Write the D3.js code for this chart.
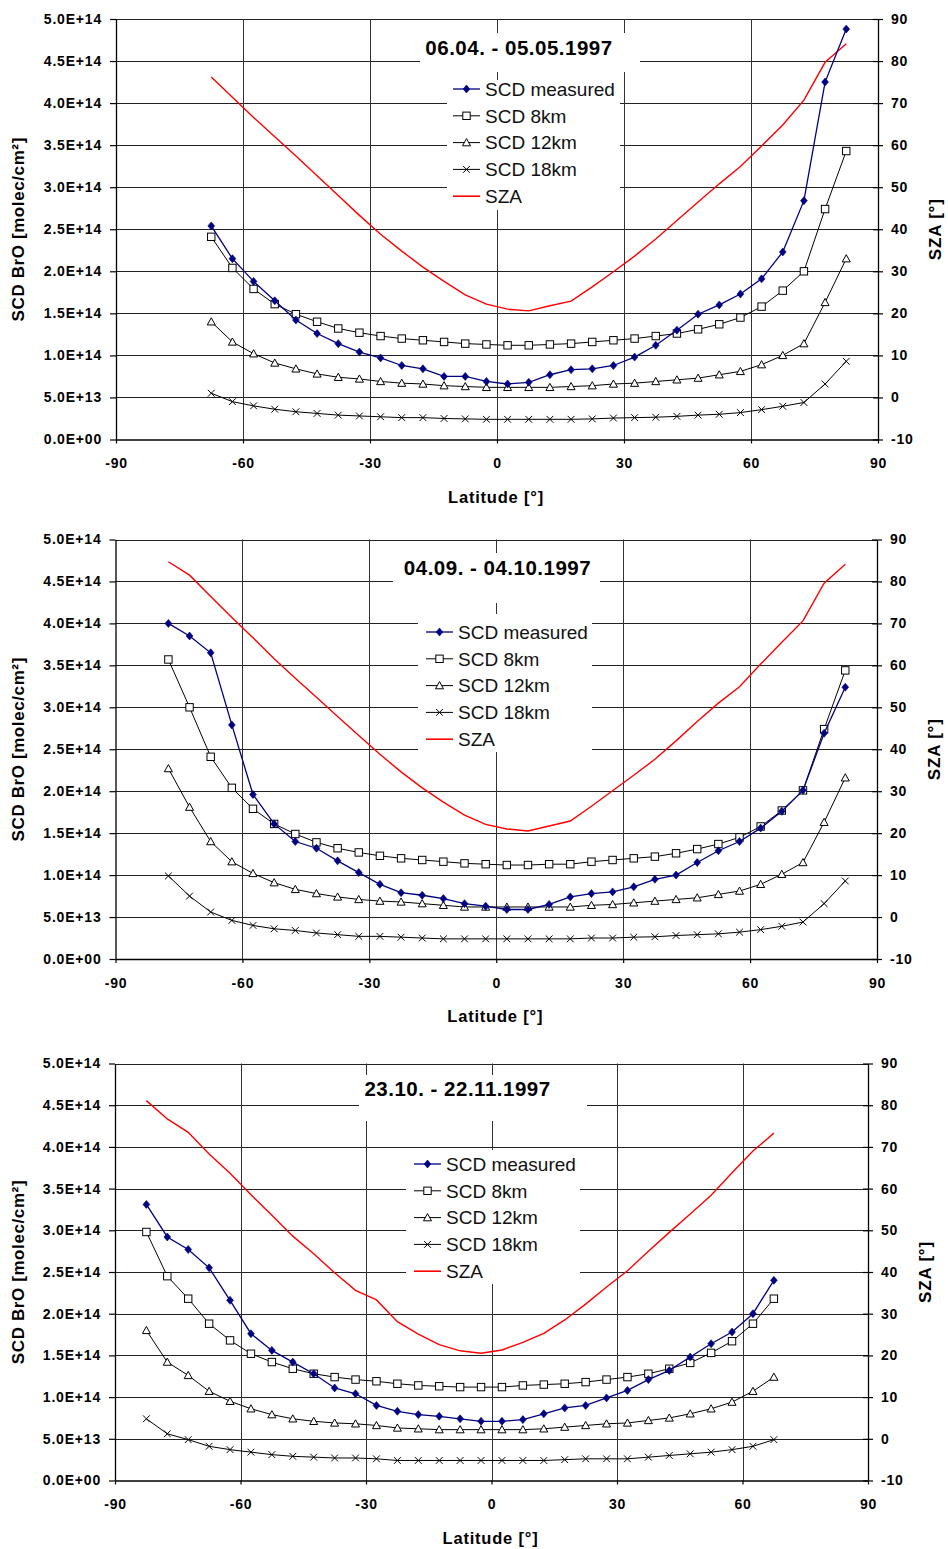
<!DOCTYPE html>
<html>
<head>
<meta charset="utf-8">
<script src="https://cdn.jsdelivr.net/npm/d3@7"></script>
<style>
  body { margin: 0; background: #fff; }
  svg { display: block; font-family: "Liberation Sans", Arial, Helvetica, sans-serif; }
</style>
</head>
<body>
<svg id="chart" width="948" height="1549"></svg>
<script>
// ---- Series names and axis ticks -------------------------------------------
const seriesNames = ["SCD measured", "SCD 8km", "SCD 12km", "SCD 18km", "SZA"];
const scdTicks = [0, 0.5, 1, 1.5, 2, 2.5, 3, 3.5, 4, 4.5, 5];      // 10^14 molec/cm²
const latTicks = [-90, -60, -30, 0, 30, 60, 90];
const latGrid  = [-60, -30, 0, 30, 60];
const szaTicks = [-10, 0, 10, 20, 30, 40, 50, 60, 70, 80, 90];

// ---- Period 1: 06.04. - 05.05.1997 (SCD in 10^14 molec/cm², SZA in °) -----
const title1 = "06.04. - 05.05.1997";
const lat1 = [-67.5,-62.5,-57.5,-52.5,-47.5,-42.5,-37.5,-32.5,-27.5,-22.5,-17.5,-12.5,-7.5,-2.5,
              2.5,7.5,12.5,17.5,22.5,27.5,32.5,37.5,42.5,47.5,52.5,57.5,62.5,67.5,72.5,77.5,82.5];
const meas1 = [2.54,2.15,1.88,1.65,1.42,1.26,1.14,1.04,0.97,0.88,0.84,0.75,0.75,0.69,0.66,0.68,
               0.77,0.83,0.84,0.88,0.98,1.12,1.30,1.49,1.60,1.73,1.91,2.23,2.84,4.25,4.88];
const km8_1 = [2.41,2.04,1.79,1.61,1.49,1.40,1.32,1.27,1.23,1.20,1.18,1.16,1.14,1.13,1.12,1.12,
               1.13,1.14,1.16,1.18,1.20,1.23,1.26,1.31,1.37,1.45,1.58,1.77,2.00,2.74,3.43];
const km12_1 = [1.40,1.16,1.02,0.91,0.84,0.78,0.74,0.72,0.69,0.67,0.66,0.64,0.63,0.62,0.62,0.62,
                0.62,0.63,0.64,0.66,0.67,0.69,0.71,0.73,0.77,0.81,0.89,1.00,1.14,1.63,2.15];
const km18_1 = [0.55,0.45,0.40,0.36,0.33,0.31,0.29,0.28,0.27,0.26,0.26,0.25,0.245,0.24,0.24,0.24,
                0.24,0.24,0.245,0.255,0.26,0.265,0.275,0.29,0.30,0.32,0.355,0.395,0.44,0.66,0.93];
const sza1 = [76.2,71.4,66.6,62.0,57.4,52.7,48.0,43.3,38.8,34.8,31.0,27.6,24.4,22.2,21.0,20.6,
              21.8,22.9,26.3,29.9,33.6,37.7,42.1,46.5,50.8,54.9,59.8,64.8,70.7,79.7,84.1];

// ---- Period 2: 04.09. - 04.10.1997 -----------------------------------------
const title2 = "04.09. - 04.10.1997";
const lat2 = [-77.5,-72.5,-67.5,-62.5,-57.5,-52.5,-47.5,-42.5,-37.5,-32.5,-27.5,-22.5,-17.5,-12.5,-7.5,-2.5,
              2.5,7.5,12.5,17.5,22.5,27.5,32.5,37.5,42.5,47.5,52.5,57.5,62.5,67.5,72.5,77.5,82.5];
const meas2 = [4.00,3.85,3.65,2.79,1.96,1.61,1.40,1.32,1.17,1.03,0.89,0.79,0.76,0.72,0.66,0.63,
               0.59,0.59,0.65,0.74,0.78,0.80,0.86,0.95,1.00,1.15,1.29,1.40,1.56,1.76,2.01,2.69,3.24];
const km8_2 = [3.57,3.00,2.41,2.04,1.79,1.61,1.49,1.39,1.32,1.27,1.23,1.20,1.18,1.16,1.14,1.13,
               1.12,1.12,1.13,1.13,1.16,1.18,1.20,1.22,1.26,1.31,1.37,1.45,1.58,1.77,2.01,2.74,3.44];
const km12_2 = [2.27,1.81,1.40,1.16,1.02,0.91,0.83,0.78,0.74,0.71,0.69,0.68,0.66,0.64,0.62,0.62,
                0.62,0.62,0.62,0.62,0.64,0.65,0.67,0.69,0.71,0.73,0.77,0.81,0.89,1.01,1.15,1.63,2.16];
const km18_2 = [0.99,0.75,0.56,0.46,0.40,0.36,0.34,0.31,0.29,0.27,0.27,0.26,0.25,0.24,0.24,0.24,
                0.24,0.24,0.24,0.24,0.25,0.25,0.26,0.265,0.28,0.29,0.30,0.32,0.35,0.39,0.44,0.66,0.93];
const sza2 = [84.7,81.5,76.4,71.4,66.6,61.6,56.9,52.4,47.8,43.3,38.8,34.6,30.8,27.4,24.3,22.1,
              21.0,20.5,21.7,22.9,26.4,30.1,33.8,37.6,42.0,46.6,51.0,54.9,60.3,65.5,70.6,79.6,84.1];

// ---- Period 3: 23.10. - 22.11.1997 -----------------------------------------
const title3 = "23.10. - 22.11.1997";
const lat3 = [-82.5,-77.5,-72.5,-67.5,-62.5,-57.5,-52.5,-47.5,-42.5,-37.5,-32.5,-27.5,-22.5,-17.5,-12.5,-7.5,
              -2.5,2.5,7.5,12.5,17.5,22.5,27.5,32.5,37.5,42.5,47.5,52.5,57.5,62.5,67.5];
const meas3 = [3.31,2.92,2.77,2.55,2.16,1.76,1.56,1.42,1.28,1.11,1.04,0.90,0.83,0.79,0.77,0.74,
               0.71,0.71,0.73,0.80,0.87,0.90,0.99,1.08,1.21,1.32,1.48,1.64,1.78,2.00,2.40];
const km8_3 = [2.98,2.45,2.18,1.88,1.68,1.52,1.42,1.34,1.28,1.24,1.21,1.19,1.16,1.14,1.13,1.12,
               1.12,1.12,1.14,1.15,1.16,1.18,1.21,1.24,1.28,1.34,1.41,1.53,1.67,1.88,2.18];
const km12_3 = [1.80,1.42,1.26,1.07,0.95,0.86,0.79,0.74,0.71,0.69,0.68,0.66,0.63,0.62,0.61,0.61,
                0.61,0.61,0.61,0.62,0.64,0.66,0.68,0.69,0.72,0.75,0.80,0.86,0.94,1.07,1.24];
const km18_3 = [0.74,0.56,0.49,0.41,0.37,0.34,0.31,0.29,0.28,0.27,0.27,0.26,0.24,0.24,0.24,0.24,
                0.24,0.24,0.24,0.24,0.25,0.26,0.26,0.26,0.28,0.30,0.32,0.34,0.37,0.41,0.49];
const sza3 = [81.1,76.7,73.5,68.3,63.7,58.5,53.6,48.6,44.4,39.8,35.6,33.3,28.1,25.1,22.6,21.1,
              20.5,21.3,23.1,25.3,28.5,32.3,36.4,40.3,45.0,49.5,53.9,58.4,63.8,69.0,73.3];

// ---- Panel frames (pixel layout of each chart) -----------------------------
const frames = [
  { left: 116,   right: 878, top: 19,     bottom: 439.5,  titleAt: [519, 48],     titleBox: [420, 33, 640, 72],
    legendBox: [447, 80, 620, 210],   legX: 453, legY: 89 },
  { left: 115.5, right: 877, top: 539.5,  bottom: 959,    titleAt: [497.5, 568],  titleBox: [393, 553, 600, 603],
    legendBox: [418, 614, 592, 752],  legX: 426, legY: 632 },
  { left: 115,   right: 868, top: 1063.5, bottom: 1480.5, titleAt: [457.5, 1089], titleBox: [359, 1075, 587, 1121],
    legendBox: [406, 1150, 580, 1284], legX: 414, legY: 1164 }
];

const panels = [
  { title: title1, lat: lat1, series: [meas1, km8_1, km12_1, km18_1], sza: sza1 },
  { title: title2, lat: lat2, series: [meas2, km8_2, km12_2, km18_2], sza: sza2 },
  { title: title3, lat: lat3, series: [meas3, km8_3, km12_3, km18_3], sza: sza3 }
];

// ---- Styles ----------------------------------------------------------------
const NAVY = "#000080", RED = "#ff0000", INK = "#000";
const seriesStroke = [NAVY, INK, INK, INK];
const seriesWidth = [1.3, 1, 1, 1];

function scdLabel(v) {
  if (v === 0) return "0.0E+00";
  if (v < 1) return (v * 10).toFixed(1) + "E+13";
  return v.toFixed(1) + "E+14";
}
const plainInt = v => String(v);   // keeps the ASCII hyphen for negatives

// marker painters: kind 0 diamond, 1 square, 2 triangle, 3 cross
function drawMarker(sel, kind) {
  if (kind === 0) {
    sel.append("path").attr("d", "M0,-4L3.4,0L0,4L-3.4,0Z").attr("fill", NAVY).attr("stroke", NAVY).attr("stroke-width", 0.6);
  } else if (kind === 1) {
    sel.append("rect").attr("x", -3.7).attr("y", -3.7).attr("width", 7.4).attr("height", 7.4)
      .attr("fill", "#fff").attr("stroke", INK).attr("stroke-width", 1);
  } else if (kind === 2) {
    sel.append("path").attr("d", "M0,-4L4,3.2L-4,3.2Z").attr("fill", "#fff").attr("stroke", INK).attr("stroke-width", 1);
  } else {
    sel.append("path").attr("d", "M-3.4,-3.4L3.4,3.4M-3.4,3.4L3.4,-3.4").attr("fill", "none").attr("stroke", INK).attr("stroke-width", 1);
  }
}

const svg = d3.select("#chart");
svg.append("rect").attr("width", 948).attr("height", 1549).attr("fill", "#fff");

panels.forEach((p, k) => {
  const F = frames[k];
  const g = svg.append("g");
  const x = d3.scaleLinear().domain([-90, 90]).range([F.left, F.right]);
  const y = d3.scaleLinear().domain([0, 5]).range([F.bottom, F.top]);
  const y2 = d3.scaleLinear().domain([-10, 90]).range([F.bottom, F.top]);

  // grid
  g.append("g").selectAll("line").data(scdTicks.filter(v => v > 0)).join("line")
    .attr("x1", F.left).attr("x2", F.right)
    .attr("y1", d => Math.round(y(d)) + 0.5).attr("y2", d => Math.round(y(d)) + 0.5)
    .attr("stroke", "#222").attr("stroke-width", 1);
  g.append("g").selectAll("line").data(latGrid).join("line")
    .attr("x1", d => Math.round(x(d)) + 0.5).attr("x2", d => Math.round(x(d)) + 0.5)
    .attr("y1", F.top).attr("y2", F.bottom)
    .attr("stroke", "#333").attr("stroke-width", 1);

  // white boxes behind the title and legend
  const tb = F.titleBox, lb = F.legendBox;
  g.append("rect").attr("x", tb[0]).attr("y", tb[1]).attr("width", tb[2] - tb[0]).attr("height", tb[3] - tb[1]).attr("fill", "#fff");
  g.append("rect").attr("x", lb[0]).attr("y", lb[1]).attr("width", lb[2] - lb[0]).attr("height", lb[3] - lb[1]).attr("fill", "#fff");

  // axes
  const axL = g.append("g").attr("transform", `translate(${F.left},0)`)
    .call(d3.axisLeft(y).tickValues(scdTicks).tickFormat(scdLabel).tickSize(6).tickSizeOuter(0).tickPadding(8));
  const axB = g.append("g").attr("transform", `translate(0,${F.bottom})`)
    .call(d3.axisBottom(x).tickValues(latTicks).tickFormat(plainInt).tickSize(4).tickSizeOuter(0).tickPadding(15));
  const axR = g.append("g").attr("transform", `translate(${F.right},0)`)
    .call(d3.axisRight(y2).tickValues(szaTicks).tickFormat(plainInt).tickSize(5).tickSizeOuter(0).tickPadding(8));
  axR.selectAll(".tick line").attr("x1", -5).attr("x2", 5);
  [axL, axB, axR].forEach(a => {
    a.select(".domain").attr("stroke", INK).attr("stroke-width", 1.3);
    a.selectAll(".tick line").attr("stroke", INK).attr("stroke-width", 1.2);
    a.selectAll("text").attr("fill", INK).style("font-family", "'Liberation Sans', Arial, sans-serif")
      .style("font-size", "14px").style("font-weight", "bold").style("letter-spacing", "0.8px");
  });

  // axis titles
  g.append("text").attr("x", (F.left + F.right) / 2 - 1).attr("y", F.bottom + 63)
    .attr("text-anchor", "middle").attr("font-size", 16.5).attr("font-weight", "bold")
    .style("letter-spacing", "0.8px").text("Latitude [°]");
  g.append("text").attr("transform", `translate(24,${(F.top + F.bottom) / 2}) rotate(-90)`)
    .attr("text-anchor", "middle").attr("font-size", 17).attr("font-weight", "bold")
    .style("letter-spacing", "0.6px").text("SCD BrO [molec/cm²]");
  g.append("text").attr("transform", `translate(${F.right + 63},${(F.top + F.bottom) / 2}) rotate(-90)`)
    .attr("text-anchor", "middle").attr("font-size", 17).attr("font-weight", "bold")
    .style("letter-spacing", "0.8px").text("SZA [°]");

  // SZA curve (right axis)
  const szaLine = d3.line().x((d, i) => x(p.lat[i])).y(d => y2(d));
  g.append("path").attr("d", szaLine(p.sza)).attr("fill", "none").attr("stroke", RED).attr("stroke-width", 1.4);

  // SCD series (left axis), drawn from 18 km up to measured
  const scdLine = d3.line().x((d, i) => x(p.lat[i])).y(d => y(d));
  [3, 2, 1, 0].forEach(s => {
    g.append("path").attr("d", scdLine(p.series[s])).attr("fill", "none")
      .attr("stroke", seriesStroke[s]).attr("stroke-width", seriesWidth[s]);
    g.append("g").selectAll("g").data(p.series[s]).join("g")
      .attr("transform", (d, i) => `translate(${x(p.lat[i])},${y(d)})`)
      .each(function () { drawMarker(d3.select(this), s); });
  });

  // legend
  const leg = g.append("g");
  seriesNames.forEach((name, s) => {
    const ly = F.legY + s * 26.8;
    const row = leg.append("g");
    row.append("line").attr("x1", F.legX).attr("x2", F.legX + 27).attr("y1", ly).attr("y2", ly)
      .attr("stroke", s === 4 ? RED : seriesStroke[s]).attr("stroke-width", s === 4 ? 1.6 : seriesWidth[s]);
    if (s < 4) {
      const m = row.append("g").attr("transform", `translate(${F.legX + 13.5},${ly})`);
      drawMarker(m, s);
    }
    row.append("text").attr("x", F.legX + 32).attr("y", ly).attr("dy", "0.36em")
      .attr("font-size", 19).attr("fill", "#111").text(name);
  });

  // period title
  g.append("text").attr("x", F.titleAt[0]).attr("y", F.titleAt[1]).attr("dy", "0.36em")
    .attr("text-anchor", "middle").attr("font-size", 20.5).attr("font-weight", "bold")
    .style("letter-spacing", "0.5px").text(p.title);
});
</script>
</body>
</html>
